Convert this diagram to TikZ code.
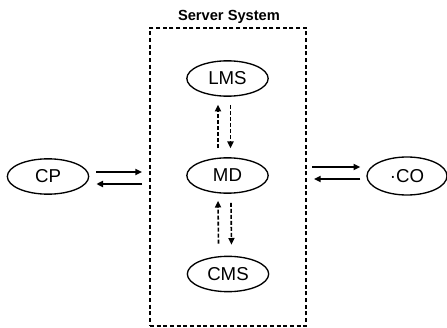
\documentclass[tikz,border=0pt]{standalone}
\usepackage{fontspec}
\setmainfont{Liberation Sans}
\usetikzlibrary{shapes.geometric,arrows.meta,calc}

\tikzset{
  unit/.style={draw, ellipse, line width=1pt, minimum width=61pt, minimum height=26.5pt, inner sep=0pt, font=\fontsize{14}{16}\selectfont},
  sysbox/.style={draw, line width=1.5pt, dash pattern=on 3pt off 2pt, minimum width=117pt, minimum height=223.5pt, inner sep=0pt},
  link/.style={line width=1.3pt, -{Triangle[length=5pt,width=4.5pt]}},
  dlink/.style={line width=1.2pt, dash pattern=on 3pt off 1.5pt, -{Triangle[length=5pt,width=4.5pt]}}
}

\begin{document}
\begin{tikzpicture}[x=0.75pt,y=0.75pt,yscale=-1,xscale=1]
\useasboundingbox (0,0) rectangle (447,328);

% server box and its title
\node[sysbox] (server) at (228,177) {};
\node[font=\bfseries\fontsize{11}{13}\selectfont] (title) at (229,17) {Server System};

% units
\node[unit] (lms) at (227.5,78.5) {LMS};
\node[unit] (md) at (227.5,175.5) {MD};
\node[unit] (cms) at (228,274) {CMS};
\node[unit] (cp) at (48,176.5) {CP};
\node[unit, minimum width=60pt, minimum height=28.5pt] (co) at (407,176) {·CO};

% inside the server
\draw[dlink] ($(md.north)+(-9.5,-9)$) -- ($(lms.south)+(-9.5,8)$);
\draw[dlink] ($(lms.south)+(3,8)$) -- ($(md.north)+(3,-9)$);
\draw[dlink] ($(cms.north)+(-9.5,-12)$) -- ($(md.south)+(-9.5,7)$);
\draw[dlink] ($(md.south)+(3.5,9)$) -- ($(cms.north)+(3.5,-11)$);

% outside links
\draw[link] ($(cp.east)+(7,-4.5)$) -- ($(cp.east -| server.west)+(-7,-4.5)$);
\draw[link] ($(cp.east -| server.west)+(-7,7.5)$) -- ($(cp.east)+(7,7.5)$);
\draw[link] ($(co.west -| server.east)+(5,-9)$) -- ($(co.west)+(-6,-9)$);
\draw[link] ($(co.west)+(-6,3)$) -- ($(co.west -| server.east)+(7,3)$);

\end{tikzpicture}
\end{document}
